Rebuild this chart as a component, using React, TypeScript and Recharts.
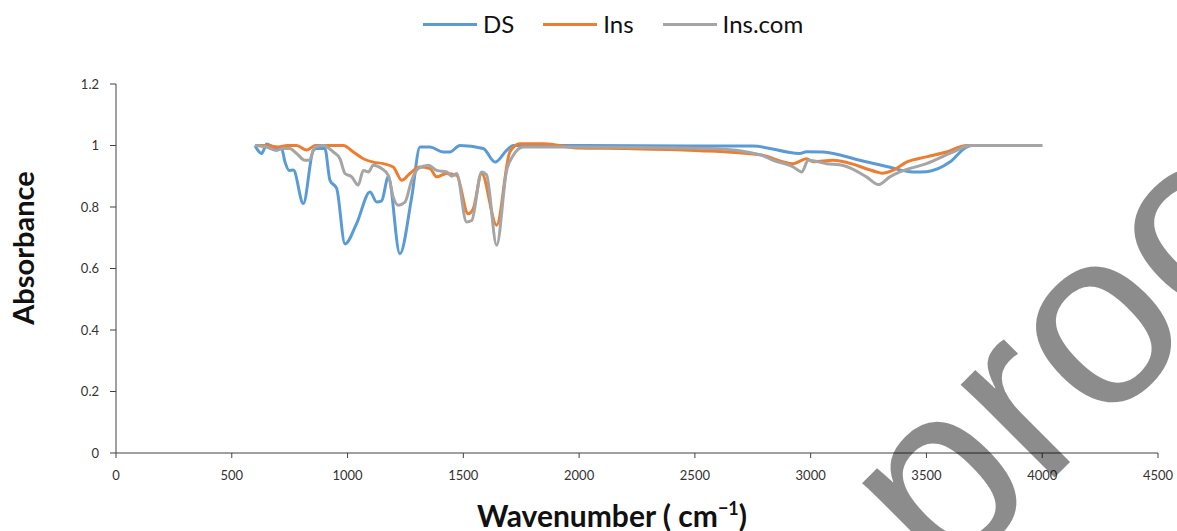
import React from 'react';
import { LineChart, Line, XAxis, YAxis, Legend } from 'recharts';

// wavenumber (cm-1) / absorbance
const dsX = [600, 629, 651, 694, 715, 730, 748, 766, 809, 852, 867, 902, 924, 953, 989, 1039, 1097, 1126, 1147, 1176, 1226, 1277, 1313, 1356, 1413, 1442, 1485, 1586, 1637, 1687, 1715, 2000, 2500, 2751, 2953, 2982, 3054, 3212, 3328, 3443, 3500, 3601, 3673, 3700, 4000];
const dsY = [1.0, 0.974, 1.005, 0.99, 0.99, 0.946, 0.919, 0.92, 0.811, 0.984, 0.99, 0.99, 0.887, 0.86, 0.68, 0.746, 0.849, 0.816, 0.82, 0.898, 0.648, 0.832, 0.995, 0.995, 0.979, 0.979, 1.0, 0.99, 0.946, 0.984, 1.0, 1.0, 0.998, 0.998, 0.974, 0.98, 0.979, 0.952, 0.932, 0.914, 0.915, 0.946, 0.995, 1.0, 1.0];

const insX = [600, 650, 700, 740, 780, 823, 860, 982, 1025, 1068, 1111, 1154, 1197, 1234, 1269, 1313, 1356, 1385, 1428, 1471, 1521, 1543, 1579, 1644, 1701, 1744, 1850, 1990, 2210, 2500, 2781, 2925, 2982, 3011, 3097, 3285, 3306, 3357, 3414, 3500, 3587, 3673, 4000];
const insY = [1.0, 1.0, 0.995, 1.0, 1.0, 0.985, 1.0, 1.0, 0.979, 0.957, 0.946, 0.941, 0.93, 0.887, 0.909, 0.93, 0.925, 0.898, 0.909, 0.903, 0.778, 0.795, 0.909, 0.741, 0.979, 1.006, 1.006, 0.992, 0.99, 0.984, 0.97, 0.941, 0.957, 0.947, 0.952, 0.914, 0.91, 0.92, 0.946, 0.963, 0.979, 1.0, 1.0];

const comX = [600, 650, 694, 720, 750, 780, 816, 835, 859, 895, 938, 967, 989, 1018, 1046, 1068, 1090, 1111, 1147, 1176, 1197, 1219, 1248, 1277, 1305, 1349, 1385, 1428, 1450, 1471, 1514, 1536, 1579, 1600, 1644, 1687, 1716, 1759, 2000, 2565, 2781, 2838, 2925, 2961, 2990, 3069, 3141, 3241, 3292, 3342, 3385, 3500, 3616, 3688, 4000];
const comY = [1.0, 0.995, 0.984, 0.99, 0.99, 0.974, 0.952, 0.952, 0.995, 1.0, 0.979, 0.957, 0.909, 0.898, 0.871, 0.919, 0.914, 0.936, 0.925, 0.903, 0.833, 0.806, 0.816, 0.887, 0.925, 0.936, 0.919, 0.914, 0.9, 0.909, 0.751, 0.756, 0.914, 0.905, 0.676, 0.919, 0.968, 0.995, 0.995, 0.99, 0.97, 0.952, 0.93, 0.914, 0.952, 0.941, 0.935, 0.898, 0.873, 0.898, 0.914, 0.941, 0.979, 1.0, 1.0];

const xTicks = [0, 500, 1000, 1500, 2000, 2500, 3000, 3500, 4000, 4500];
const yTicks = [0, 0.2, 0.4, 0.6, 0.8, 1, 1.2];

const series = [
  { name: 'DS', color: '#5B9BD5', xs: dsX, ys: dsY },
  { name: 'Ins', color: '#ED7D31', xs: insX, ys: insY },
  { name: 'Ins.com', color: '#A5A5A5', xs: comX, ys: comY },
];

const toPoints = (xs: number[], ys: number[]) => xs.map((x, i) => ({ x, y: ys[i] }));

const FONT = 'Lato, "Open Sans", sans-serif';
const AXIS = '#404040';

function TopLegend() {
  return (
    <div style={{ height: 74, fontFamily: FONT }}>
      <div style={{ display: 'flex', alignItems: 'center', height: 28, paddingLeft: 423 }}>
        {series.map((s) => (
          <div key={s.name} style={{ display: 'flex', alignItems: 'center', marginRight: 29 }}>
            <span style={{ width: 54, height: 3, background: s.color, display: 'inline-block', marginRight: 6 }} />
            <span style={{ fontSize: 24, color: '#111', lineHeight: '28px' }}>{s.name}</span>
          </div>
        ))}
      </div>
    </div>
  );
}

function XTitle() {
  return (
    <text x={612} y={527} textAnchor="middle" fontFamily={FONT} fontWeight={700} fontSize={30} fill="#111">
      Wavenumber ( cm<tspan dy={-12} fontSize={18}>−1</tspan><tspan dy={12}>)</tspan>
    </text>
  );
}

function YTitle() {
  return (
    <text x={34} y={248} transform="rotate(-90 34 248)" textAnchor="middle" fontFamily={FONT} fontWeight={700} fontSize={29} fill="#111">
      Absorbance
    </text>
  );
}

export default function App() {
  return (
    <div style={{ position: 'fixed', left: 0, top: 0, width: 1177, height: 531, overflow: 'hidden', background: '#fff' }}>
      <LineChart width={1177} height={531} margin={{ top: 10, right: 19, bottom: 0, left: 0 }}>
        <XAxis
          type="number"
          dataKey="x"
          domain={[0, 4500]}
          ticks={xTicks}
          allowDuplicatedCategory={false}
          height={78}
          stroke={AXIS}
          tickSize={5}
          tickMargin={13}
          tick={{ fill: '#333', fontSize: 13, fontFamily: FONT }}
          label={<XTitle />}
        />
        <YAxis
          type="number"
          domain={[0, 1.2]}
          ticks={yTicks}
          width={116}
          stroke={AXIS}
          tickSize={6}
          tickMargin={11}
          tick={{ fill: '#333', fontSize: 13, fontFamily: FONT }}
          tickFormatter={(v) => String(v)}
          label={<YTitle />}
        />
        <Legend verticalAlign="top" content={<TopLegend />} />
        {series.map((s) => (
          <Line
            key={s.name}
            name={s.name}
            data={toPoints(s.xs, s.ys)}
            dataKey="y"
            type="monotone"
            stroke={s.color}
            strokeWidth={3}
            dot={false}
            isAnimationActive={false}
          />
        ))}
      </LineChart>
      <svg width={1177} height={531} style={{ position: 'absolute', left: 0, top: 0, pointerEvents: 'none' }}>
        <text
          x={944}
          y={588}
          transform="rotate(-45 944 588)"
          fontFamily='"Liberation Sans", Arial, sans-serif'
          fontSize={250}
          fill="rgba(0,0,0,0.45)"
        >
          proof
        </text>
      </svg>
    </div>
  );
}
